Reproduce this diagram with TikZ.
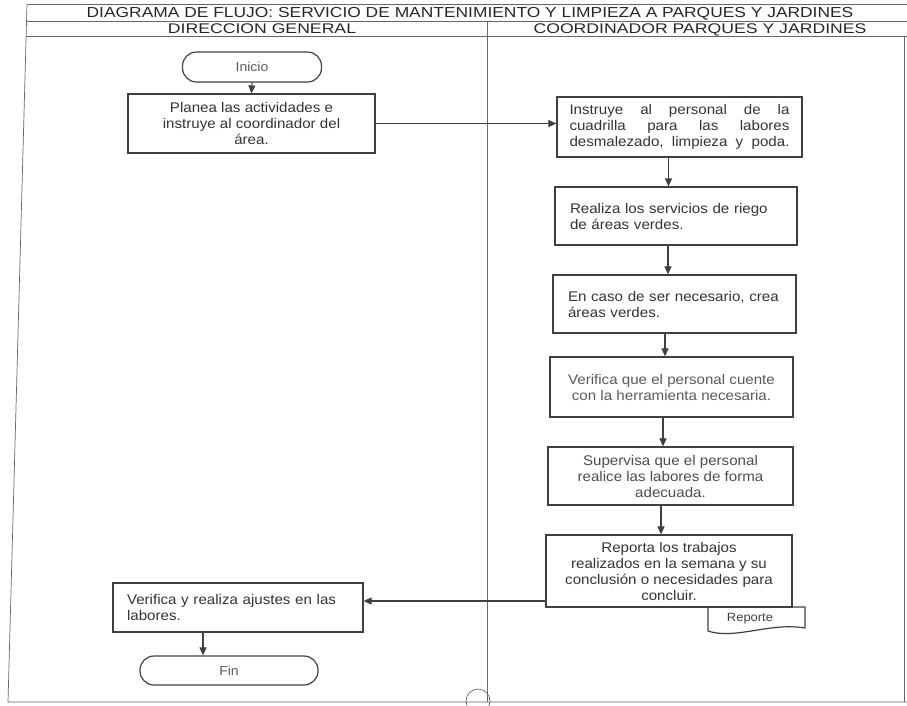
\documentclass[tikz,border=0pt]{standalone}
\usepackage{fontspec}
\setmainfont{Liberation Sans}[FakeStretch=1.08]
\newfontfamily\titlefont{Liberation Sans}[FakeStretch=1.2]
\newfontfamily\headfont{Liberation Sans}[FakeStretch=1.26]
\usetikzlibrary{arrows.meta}
\begin{document}
\begin{tikzpicture}[x=1pt,y=-1pt,
  ink/.style={draw=black!75, line width=1.2pt},
  box/.style={ink, rectangle, inner sep=0pt, text=black!80, font=\fontsize{14}{16}\selectfont},
  term/.style={ink, rectangle, rounded corners=14pt, inner sep=0pt, text=black!65, font=\fontsize{13}{16}\selectfont},
  flow/.style={draw=black!75, line width=1.1pt, -{Triangle[length=8pt,width=7pt]}},
  lane/.style={draw=black!60, line width=0.7pt},
  head/.style={text=black!85, inner sep=0pt, anchor=base}
]
\useasboundingbox (0,0) rectangle (907,705);
% frame
\draw[lane] (27,4) -- (907,4);
\draw[lane] (26.6,21) -- (907,21);
\draw[lane] (26.2,36) -- (907,36);
\draw[lane] (27,4) -- (8,702) -- (907,702);
\draw[lane] (904,36) -- (904,702);
\draw[lane] (487,21) -- (487,702);
\node[circle, draw=black!60, line width=0.7pt, minimum size=24pt, inner sep=0pt] (conn) at (478,701) {};
% headings
\node[head, font=\titlefont\fontsize{14.5}{17}\selectfont] (title) at (470,17.8) {DIAGRAMA DE FLUJO: SERVICIO DE MANTENIMIENTO Y LIMPIEZA A PARQUES Y JARDINES};
\node[head, font=\headfont\fontsize{14}{17}\selectfont] (h1) at (262,33.3) {DIRECCION GENERAL};
\node[head, font=\headfont\fontsize{14}{17}\selectfont] (h2) at (700,33.3) {COORDINADOR PARQUES Y JARDINES};
% nodes
\node[term, minimum width=139pt, minimum height=30pt] (inicio) at (252,67) {Inicio};
\node[box, minimum width=247pt, minimum height=59pt, align=center] (planea) at (251.5,123.5)
  {Planea las actividades e\\ instruye al coordinador del\\ área.};
\node[box, minimum width=245pt, minimum height=60pt, text width=220pt, align=left] (instr) at (679.5,127)
  {\makebox[220pt][l]{Instruye\hfill al\hfill personal\hfill de\hfill la}\\
   \makebox[220pt][l]{cuadrilla\hfill para\hfill las\hfill labores}\\
   \makebox[220pt][l]{desmalezado,\hfill limpieza\hfill y\hfill poda.}};
\node[box, minimum width=242pt, minimum height=58pt, text width=212pt, align=left] (realiza) at (676,216)
  {Realiza los servicios de riego\\ de áreas verdes.};
\node[box, minimum width=243pt, minimum height=58pt, text width=213pt, align=left] (encaso) at (674.5,304)
  {En caso de ser necesario, crea\\ áreas verdes.};
\node[box, minimum width=243pt, minimum height=60pt, align=center, text=black!65] (verif) at (671.5,387)
  {Verifica que el personal cuente\\ con la herramienta necesaria.};
\node[box, minimum width=245pt, minimum height=58pt, align=center, text=black!70] (superv) at (670.5,476)
  {Supervisa que el personal\\ realice las labores de forma\\ adecuada.};
\node[box, minimum width=246pt, minimum height=72pt, align=center] (reporta) at (669,571)
  {Reporta los trabajos\\ realizados en la semana y su\\ conclusión o necesidades para\\ concluir.};
\node[inner sep=0pt, text=black!75, font=\fontsize{12}{14}\selectfont] (reporte) at (750,619) {Reporte};
\draw[ink] (708,607) -- (708,631) .. controls (735,640) and (770,622) .. (805,628) -- (805,607) -- cycle;
\node[box, minimum width=250pt, minimum height=49pt, text width=222pt, align=left] (ajustes) at (238,607.5)
  {Verifica y realiza ajustes en las\\ labores.};
\node[term, minimum width=178pt, minimum height=29pt] (fin) at (229,670.5) {Fin};
% connectors
\draw[flow] (inicio.south) -- (planea.north);
\draw[flow] (planea.east) -- (planea.east -| instr.west);
\draw[flow] ([xshift=-11pt]instr.south) -- ([xshift=-11pt]instr.south |- realiza.north);
\draw[flow] ([xshift=-8pt]realiza.south) -- ([xshift=-8pt]realiza.south |- encaso.north);
\draw[flow] ([xshift=-9.5pt]encaso.south) -- ([xshift=-9.5pt]encaso.south |- verif.north);
\draw[flow] ([xshift=-8.5pt]verif.south) -- ([xshift=-8.5pt]verif.south |- superv.north);
\draw[flow] ([xshift=-9.5pt]superv.south) -- ([xshift=-9.5pt]superv.south |- reporta.north);
\coordinate (aj) at ([yshift=6.5pt]ajustes.east);
\draw[flow] (reporta.west |- aj) -- (aj);
\draw[flow] ([xshift=-35pt]ajustes.south) -- ([xshift=-35pt]ajustes.south |- fin.north);
\end{tikzpicture}
\end{document}
